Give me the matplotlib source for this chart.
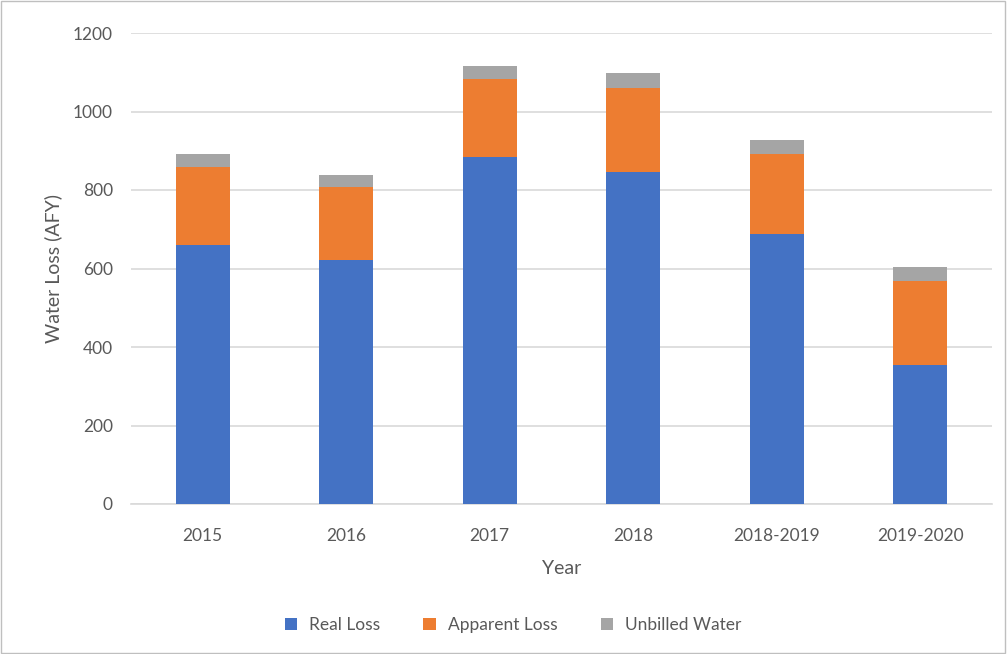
import matplotlib.pyplot as plt
import numpy as np
from matplotlib.patches import Rectangle

# values (AFY)
years = ["2015", "2016", "2017", "2018", "2018-2019", "2019-2020"]
real_loss = [661, 622, 883, 847, 687, 354]
apparent_loss = [197, 185, 200, 214, 204, 215]
unbilled = [33, 31, 34, 36, 37, 36]

plt.rcParams['font.family'] = ['Lato', 'DejaVu Sans']
txt = '#595959'

fig = plt.figure(figsize=(10.07, 6.54), dpi=100)
ax = fig.add_axes([131/1007, 1-504/654, (992-131)/1007, (504-33)/654])

x = np.arange(len(years))
w = 0.376
real_loss = np.array(real_loss)
apparent_loss = np.array(apparent_loss)
unbilled = np.array(unbilled)

ax.bar(x, real_loss, w, color='#4472C4', label='Real Loss', zorder=3)
ax.bar(x, apparent_loss, w, bottom=real_loss, color='#ED7D31', label='Apparent Loss', zorder=3)
ax.bar(x, unbilled, w, bottom=real_loss+apparent_loss, color='#A5A5A5', label='Unbilled Water', zorder=3)

ax.set_xlim(-0.5, len(years)-0.5)
ax.set_ylim(0, 1200)
ax.set_yticks(range(0, 1201, 200))
ax.set_xticks(x)
ax.set_xticklabels(years)
ax.grid(axis='y', color='#D9D9D9', linewidth=1.2, zorder=0)
for s in ['top', 'right', 'left']:
    ax.spines[s].set_visible(False)
ax.spines['bottom'].set_color('#D9D9D9')
ax.spines['bottom'].set_linewidth(1.2)
ax.tick_params(axis='both', length=0, labelsize=12.5, colors=txt)
ax.tick_params(axis='x', pad=17)
ax.tick_params(axis='y', pad=13)

ax.set_ylabel('Water Loss (AFY)', fontsize=14, color=txt, labelpad=8)
ax.set_xlabel('Year', fontsize=14, color=txt, labelpad=12)

fig.legend(loc='center', bbox_to_anchor=(513/1007, 1-625/654), ncol=3, frameon=False,
           fontsize=12.5, labelcolor=txt, handlelength=0.7, handleheight=0.7,
           columnspacing=2.5, handletextpad=0.7)

# thin frame around the whole picture
fig.patches.append(Rectangle((0.001, 0.001), 0.997, 0.997, transform=fig.transFigure,
                             fill=False, edgecolor='#BFBFBF', linewidth=1))

fig.savefig('out.png', dpi=100)
